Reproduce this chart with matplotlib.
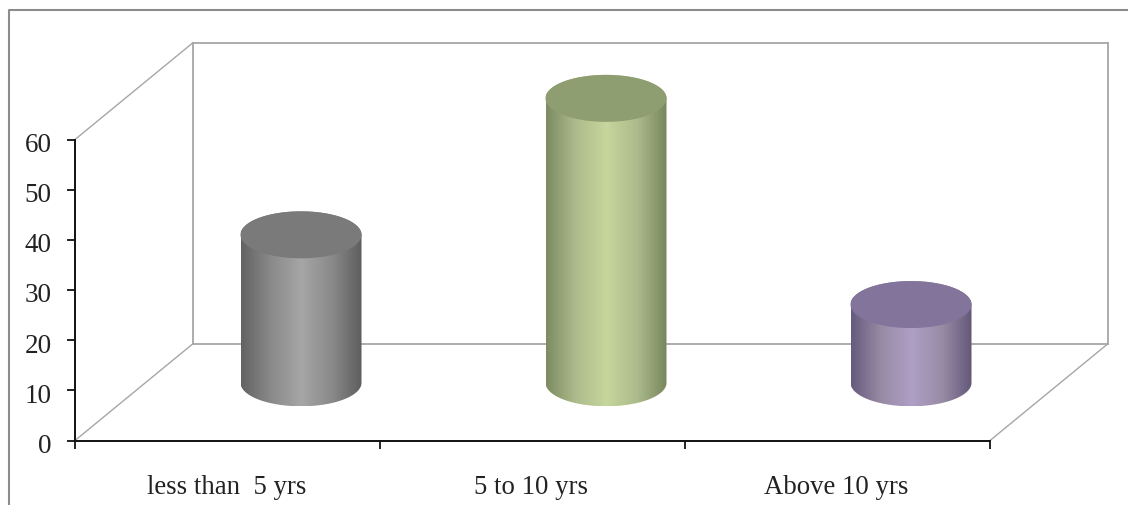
import numpy as np
import matplotlib
matplotlib.use("Agg")
import matplotlib.pyplot as plt
from matplotlib.colors import LinearSegmentedColormap
from matplotlib.lines import Line2D
from matplotlib.patches import Polygon
from matplotlib.transforms import ScaledTranslation

categories = ["less than  5 yrs", "5 to 10 yrs", "Above 10 yrs"]
values = [29.5, 56.7, 15.6]
y_ticks = [0, 10, 20, 30, 40, 50, 60]

top_colors = ["#7a7a7a", "#8e9e70", "#82749a"]
side_colors = [
    ["#636363", "#8a8a8a", "#a6a6a6", "#8a8a8a", "#5e5e5e"],
    ["#7d8b62", "#adbc8c", "#c6d69c", "#adbc8c", "#78865d"],
    ["#675b7e", "#988ba5", "#af9fc6", "#988ba5", "#625678"],
]

W, H = 1128, 506
fig = plt.figure(figsize=(W / 100, H / 100), dpi=100, facecolor="white")
plt.rcParams["font.family"] = ["Liberation Serif", "DejaVu Serif"]

# frame
fig.add_artist(Line2D([9 / W, 9 / W, 1], [0, 1 - 10.5 / H, 1 - 10.5 / H], color="#8c8c8c", lw=1.5))

left, right, y0, y60 = 75.0, 990.0, 441.5, 140.5
ax = fig.add_axes([left / W, 1 - y0 / H, (right - left) / W, (y0 - y60) / H])
ax.set_xlim(0, 3)
ax.set_ylim(0, 60)
ax.patch.set_alpha(0)

# depth of the 3D box, in data units
dx, dy = 118 / 305, 19.3
grey = "#a6a6a6"
for xs, ys, lw in [
    ([dx, dx], [dy, 60 + dy], 1.3),
    ([dx, 3 + dx], [60 + dy, 60 + dy], 1.3),
    ([3 + dx, 3 + dx], [60 + dy, dy], 1.3),
    ([dx, 3 + dx], [dy, dy], 1.3),
    ([0, dx], [0, dy], 1.0),
    ([0, dx], [60, 60 + dy], 1.0),
    ([3, 3 + dx], [0, dy], 1.0),
]:
    ax.plot(xs, ys, color=grey, lw=lw, clip_on=False, zorder=1)

# cylinders
x_shift, base = 0.241, 11.5
half_w = 60.5 / 305
ell_h = 23.5 / (301 / 60)
theta = np.linspace(0, np.pi, 80)
for i, (v, top, side) in enumerate(zip(values, top_colors, side_colors)):
    cx = i + 0.5 + x_shift
    yt = base + v
    ex = cx + half_w * np.cos(theta)
    ey = ell_h * np.sin(theta)
    body_x = np.r_[ex, ex[::-1]]
    body_y = np.r_[yt + ey, base - ey[::-1]]
    cmap = LinearSegmentedColormap.from_list(f"c{i}", side)
    im = ax.imshow(
        np.linspace(0, 1, 256)[None, :],
        extent=[cx - half_w, cx + half_w, base - ell_h, yt + ell_h],
        cmap=cmap, aspect="auto", zorder=3,
    )
    poly = Polygon(np.c_[body_x, body_y], closed=True, transform=ax.transData,
                   facecolor="none", edgecolor="none", clip_on=False)
    ax.add_patch(poly)
    im.set_clip_path(poly)
    im.set_clip_box(fig.bbox)
    full = np.linspace(0, 2 * np.pi, 160)
    ax.fill(cx + half_w * np.cos(full), yt + ell_h * np.sin(full),
            color=top, zorder=4, lw=0, clip_on=False)
ax.set_xlim(0, 3)
ax.set_ylim(0, 60)

for s in ("top", "right"):
    ax.spines[s].set_visible(False)
for s in ("left", "bottom"):
    ax.spines[s].set_linewidth(1.4)
    ax.spines[s].set_color("#111111")

ax.set_yticks(y_ticks)
ax.set_xticks([0, 1, 2, 3])
ax.set_xticklabels([])
ax.tick_params(axis="y", length=6, width=1.3, color="#111111", pad=11,
               labelsize=19.5, labelcolor="#222222")
ax.tick_params(axis="x", length=6, width=1.3, color="#111111")
offset = ScaledTranslation(0, -2 / 100, fig.dpi_scale_trans)
for lab in ax.get_yticklabels():
    lab.set_transform(lab.get_transform() + offset)

for i, c in enumerate(categories):
    ax.annotate(c, xy=(i + 0.5, 0), xycoords=("data", "axes fraction"),
                xytext=(-1, -46), textcoords="offset pixels",
                ha="center", va="center", fontsize=19.3, color="#222222",
                annotation_clip=False)

fig.savefig("out.png", dpi=100, facecolor="white")
